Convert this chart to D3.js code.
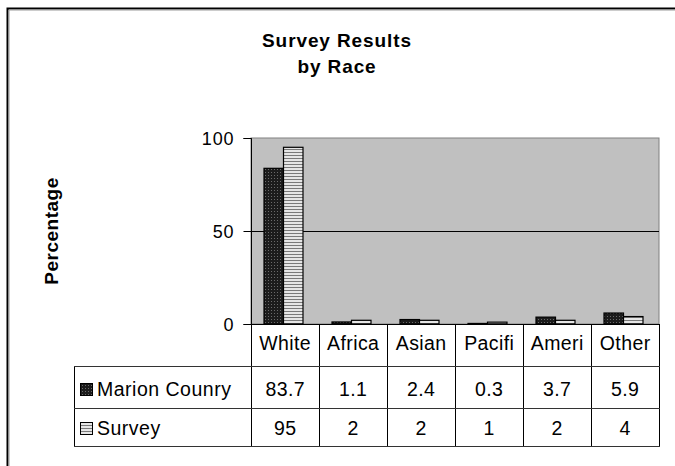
<!DOCTYPE html>
<html><head><meta charset="utf-8">
<script src="https://cdn.jsdelivr.net/npm/d3@7"></script>
<style>
html,body{margin:0;padding:0;background:#fff;}
svg{display:block;}
text{font-family:"Liberation Sans",Arial,sans-serif;fill:#000;}
</style></head>
<body>
<svg id="chart" width="675" height="466"></svg>
<script>
const categories = ["White", "Africa", "Asian", "Pacifi", "Ameri", "Other"];
const seriesNames = ["Marion Counry", "Survey"];
const marionValues = [83.7, 1.1, 2.4, 0.3, 3.7, 5.9];
const surveyValues = [95, 2, 2, 1, 2, 4];
const marionLabels = ["83.7", "1.1", "2.4", "0.3", "3.7", "5.9"];
const surveyLabels = ["95", "2", "2", "1", "2", "4"];
const yTicks = [0, 50, 100];
const titleLines = ["Survey Results", "by Race"];
const yTitle = "Percentage";

const svg = d3.select("#chart");
const defs = svg.append("defs");

// patterns
const p1 = defs.append("pattern").attr("id", "patMarion").attr("patternUnits", "userSpaceOnUse")
  .attr("width", 3).attr("height", 3);
p1.append("rect").attr("width", 3).attr("height", 3).attr("fill", "#1c1c1c");
p1.append("rect").attr("x", 1).attr("y", 1).attr("width", 1).attr("height", 1).attr("fill", "#6a6a6a");
const p2 = defs.append("pattern").attr("id", "patSurvey").attr("patternUnits", "userSpaceOnUse")
  .attr("width", 4).attr("height", 3);
p2.append("rect").attr("width", 4).attr("height", 3).attr("fill", "#e6e6e6");
p2.append("rect").attr("y", 2).attr("width", 4).attr("height", 1).attr("fill", "#7a7a7a");
const fills = ["url(#patMarion)", "url(#patSurvey)"];

// outer chart border
svg.append("path").attr("d", "M7.5,466 V8.5 H676").attr("fill", "none")
  .attr("stroke", "#000").attr("stroke-width", 2);
svg.append("path").attr("d", "M9,466 V10 H676").attr("fill", "none")
  .attr("stroke", "#9a9a9a").attr("stroke-width", 1);

const L = 251, R = 659, T = 138, B = 324;
const x = d3.scaleBand().domain(categories).range([L, R]).padding(0);
const xs = d3.scaleBand().domain(seriesNames).range([13, 52]).padding(0);
const y = d3.scaleLinear().domain([0, 100]).range([B, T]);

// plot area
svg.append("rect").attr("x", L).attr("y", T).attr("width", R - L).attr("height", B - T)
  .attr("fill", "#c0c0c0").attr("stroke", "#808080").attr("stroke-width", 1);

// gridlines
svg.append("g").selectAll("line").data(yTicks.filter(d => d > 0 && d < 100)).join("line")
  .attr("x1", L).attr("x2", R).attr("y1", d => Math.round(y(d)) + 0.5).attr("y2", d => Math.round(y(d)) + 0.5)
  .attr("stroke", "#000").attr("stroke-width", 1);

// bars
const seriesData = [marionValues, surveyValues];
seriesData.forEach((vals, si) => {
  svg.append("g").selectAll("rect").data(vals).join("rect")
    .attr("x", (d, i) => x(categories[i]) + xs(seriesNames[si]))
    .attr("y", d => y(d))
    .attr("width", xs.bandwidth())
    .attr("height", d => B - y(d))
    .attr("fill", fills[si])
    .attr("stroke", "#000").attr("stroke-width", 1.2);
});

// y axis
const yAxis = d3.axisLeft(y).tickValues(yTicks).tickSize(8).tickPadding(9).tickFormat(d3.format("d"));
const ga = svg.append("g").attr("transform", `translate(${L + 0.5},0)`).call(yAxis);
ga.select(".domain").attr("stroke", "#000").attr("d", `M-8,${T + 0.5}H0V${B + 0.5}H-8`);
ga.selectAll(".tick line").attr("stroke", "#000");
ga.selectAll(".tick text").attr("font-family", "Liberation Sans, Arial, sans-serif")
  .attr("font-size", 18).attr("letter-spacing", "0.9px").attr("fill", "#000").attr("dy", "0.36em");
ga.selectAll(".tick").attr("transform", d => `translate(0,${Math.round(y(d)) + 0.5})`);

// x axis baseline
svg.append("line").attr("x1", L).attr("x2", R).attr("y1", B + 0.5).attr("y2", B + 0.5)
  .attr("stroke", "#000");

// data table
const rowY = [B, 366, 408, 446];
const tbl = svg.append("g").attr("stroke", "#000").attr("stroke-width", 1).attr("shape-rendering", "crispEdges");
const bounds = categories.map(c => x(c)).concat([R]);
tbl.selectAll("line.v").data(bounds).join("line").attr("class", "v")
  .attr("x1", d => Math.round(d) + 0.5).attr("x2", d => Math.round(d) + 0.5)
  .attr("y1", B).attr("y2", rowY[3]);
tbl.append("line").attr("x1", 74.5).attr("x2", 74.5).attr("y1", rowY[1]).attr("y2", rowY[3]);
tbl.selectAll("line.h").data(rowY.slice(1)).join("line").attr("class", "h")
  .attr("x1", 74).attr("x2", R + 1).attr("y1", d => d + 0.5).attr("y2", d => d + 0.5)
  .attr("stroke", "#333");

const tstyle = sel => sel.attr("font-size", 19.5).attr("letter-spacing", "0.4px").attr("text-anchor", "middle");
// category labels
svg.append("g").selectAll("text").data(categories).join("text")
  .attr("x", d => x(d) + x.bandwidth() / 2 + 0.2).attr("y", 350).text(d => d).call(tstyle);
// value rows
const rowLabels = [marionLabels, surveyLabels];
const rowBase = [396, 435];
rowLabels.forEach((labs, ri) => {
  svg.append("g").selectAll("text").data(labs).join("text")
    .attr("x", (d, i) => x(categories[i]) + x.bandwidth() / 2 + 0.2).attr("y", rowBase[ri]).text(d => d).call(tstyle);
  svg.append("rect").attr("x", 80.5).attr("y", rowBase[ri] - 12.5).attr("width", 12).attr("height", 12)
    .attr("fill", fills[ri]).attr("stroke", "#000").attr("stroke-width", 1);
  svg.append("text").attr("x", 97).attr("y", rowBase[ri]).attr("font-size", 19.5)
    .attr("letter-spacing", "0.5px").text(seriesNames[ri]);
});

// title
svg.append("g").selectAll("text").data(titleLines).join("text")
  .attr("x", 337).attr("y", (d, i) => 47 + i * 26)
  .attr("text-anchor", "middle").attr("font-weight", "bold").attr("font-size", 19)
  .attr("letter-spacing", "0.9px").text(d => d);

// y title
svg.append("text").attr("transform", "translate(58,231) rotate(-90)")
  .attr("text-anchor", "middle").attr("font-weight", "bold").attr("font-size", 19)
  .attr("letter-spacing", "0.5px").text(yTitle);
</script>
</body></html>
